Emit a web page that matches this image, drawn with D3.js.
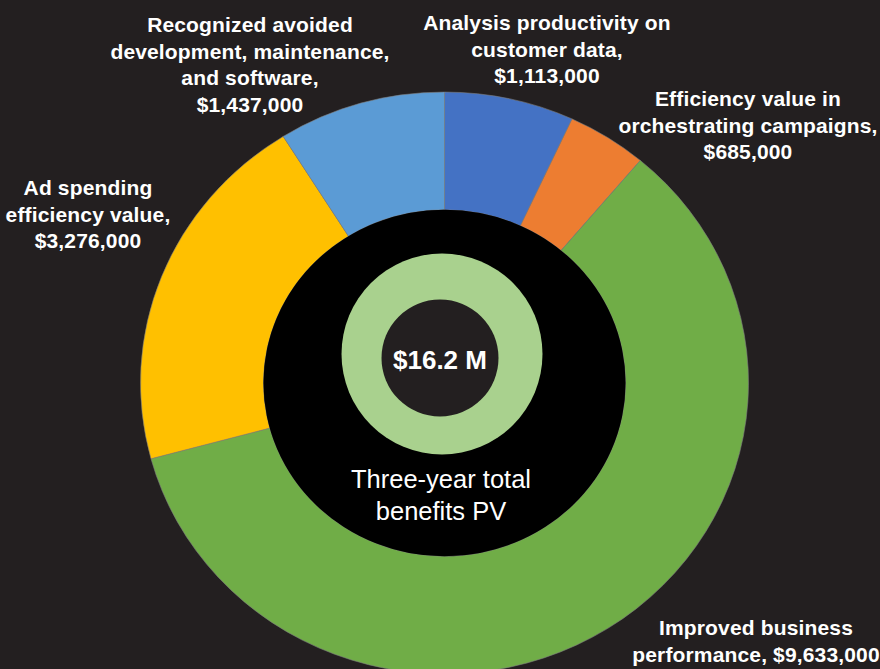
<!DOCTYPE html>
<html>
<head>
<meta charset="utf-8">
<script src="https://cdn.jsdelivr.net/npm/d3@7"></script>
<style>
  html, body { margin: 0; padding: 0; background: #231f20; }
  text { font-family: "Liberation Sans", Arial, sans-serif; fill: #fff; }
</style>
</head>
<body>
<div id="chart"></div>
<script>
let width = 880;
let height = 669;

// benefit categories, clockwise from 12 o'clock
let categories = [
    "Analysis productivity on\ncustomer data",
    "Efficiency value in\norchestrating campaigns",
    "Improved business\nperformance",
    "Ad spending\nefficiency value",
    "Recognized avoided\ndevelopment, maintenance,\nand software"
];
let values = [1113000, 685000, 9633000, 3276000, 1437000];
let colors = ["#4472c4", "#ed7d31", "#70ad47", "#ffc000", "#5b9bd5"];
// what goes between the name and the amount in each label
let valueSep = [",\n", ",\n", ", ", ",\n", ",\n"];

let centerValue = "$16.2 M";
let centerCaption = ["Three-year total", "benefits PV"];

// where each label block sits (centre x, first baseline)
let labelPos = [[547, 30], [748, 106], [756, 635], [88, 195], [250, 32]];

let svg = d3.select('#chart')
    .append('svg')
        .attr('width', width)
        .attr('height', height);

svg.append('rect')
    .attr('width', width)
    .attr('height', height)
    .attr('fill', '#231f20');

let fmt = d3.format(',');

let pie = d3.pie().sort(null).value(d => d);
let arcs = pie(values);

let outerR = 304;
let innerR = 181;
let arc = d3.arc().innerRadius(innerR).outerRadius(outerR);

// the picture is a little squashed vertically
let ring = svg.append('g')
    .attr('transform', 'translate(444.5,383) scale(1,0.957)');

ring.selectAll('path')
    .data(arcs)
    .enter()
    .append('path')
        .attr('d', arc)
        .attr('fill', (d, i) => colors[i])
        .attr('stroke', '#7f7f7f')
        .attr('stroke-width', 0.6);

ring.append('circle')
    .attr('r', innerR)
    .attr('fill', '#000');

// small total ring
let total = svg.append('g')
    .attr('transform', 'translate(442,354)');
total.append('circle')
    .attr('r', 100.5)
    .attr('fill', '#a9d18e');
total.append('circle')
    .attr('cx', -2)
    .attr('cy', 4)
    .attr('r', 58.5)
    .attr('fill', '#231f20');

svg.append('text')
    .attr('x', 440)
    .attr('y', 369)
    .attr('text-anchor', 'middle')
    .style('font-size', '26px')
    .style('font-weight', 'bold')
    .text(centerValue);

centerCaption.forEach(function(t, i){
    svg.append('text')
        .attr('x', 441)
        .attr('y', 488 + i*32)
        .attr('text-anchor', 'middle')
        .style('font-size', '25.5px')
        .text(t);
});

// category labels
arcs.forEach(function(d, i){
    let lines = (categories[i] + valueSep[i] + '$' + fmt(values[i])).split('\n');
    let t = svg.append('text')
        .attr('text-anchor', 'middle')
        .style('font-size', '21px')
        .style('letter-spacing', '0.15px')
        .style('font-weight', 'bold');
    lines.forEach(function(l, j){
        t.append('tspan')
            .attr('x', labelPos[i][0])
            .attr('y', labelPos[i][1] + j*26.5)
            .text(l);
    });
});
</script>
</body>
</html>
